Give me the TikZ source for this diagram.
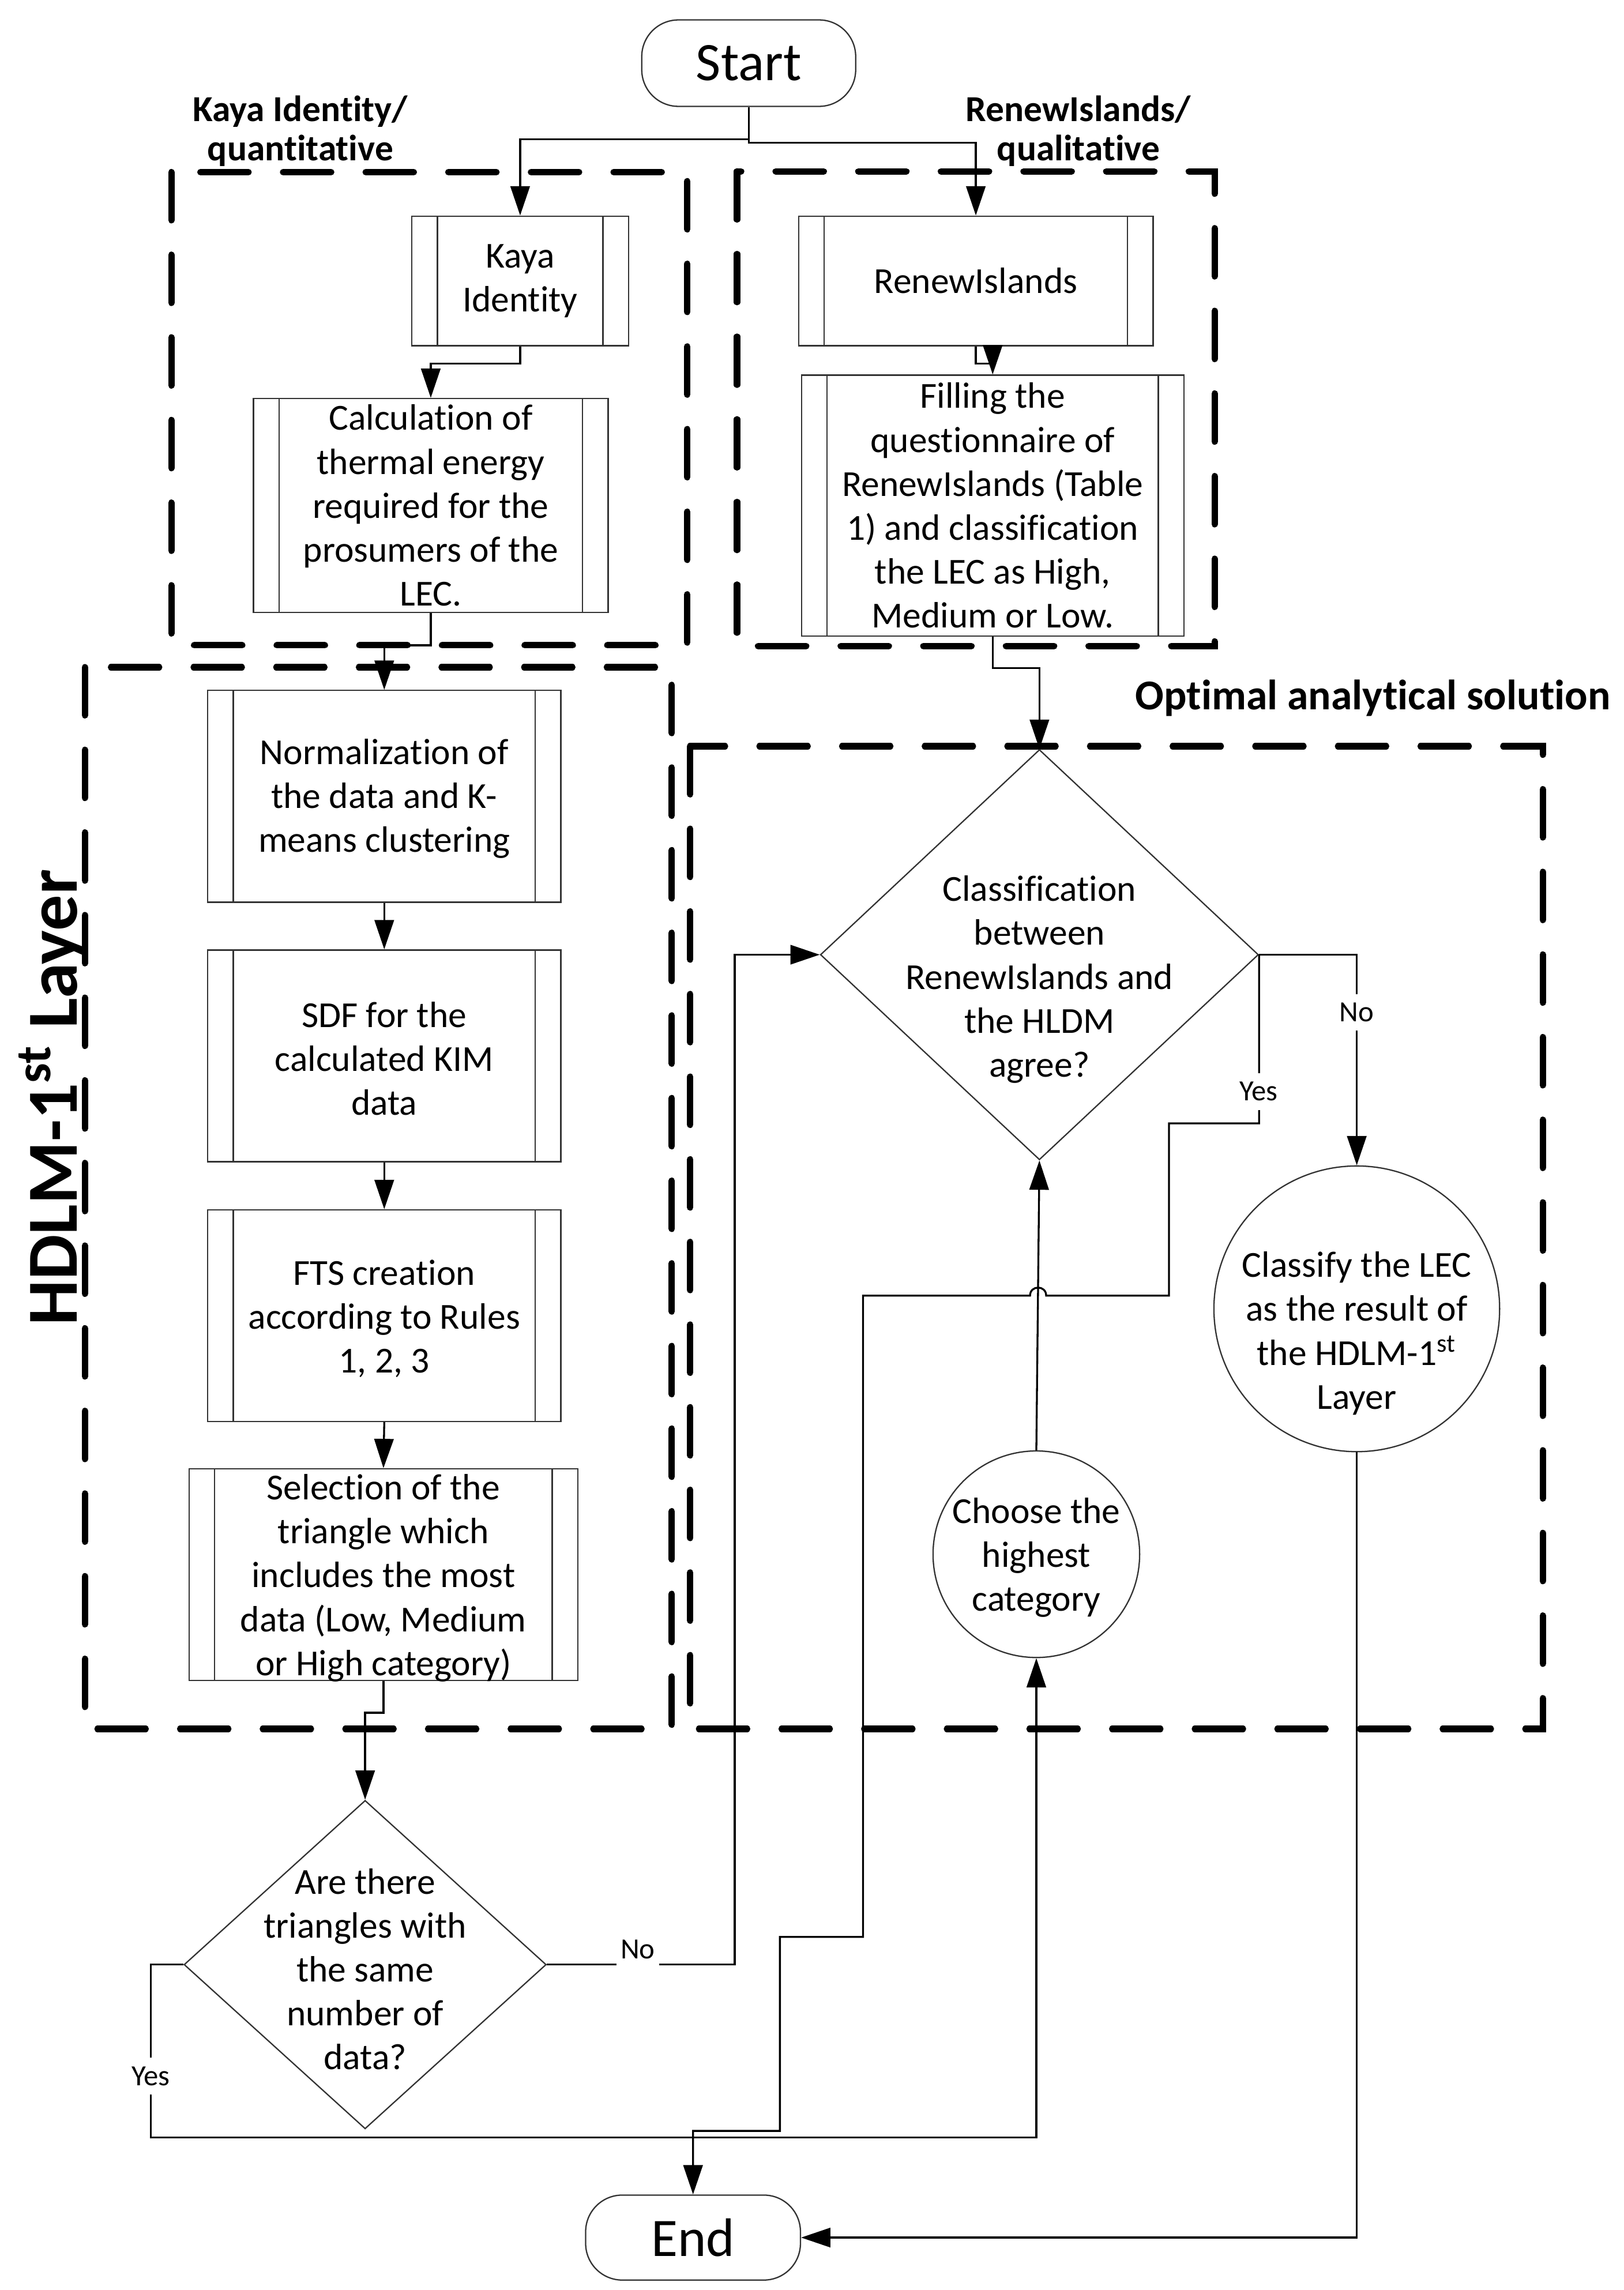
\documentclass[tikz,border=0pt]{standalone}
\usepackage{fontspec}
\setmainfont{Carlito}[Ligatures={NoCommon}]
\usetikzlibrary{arrows.meta,shapes.geometric}
\begin{document}
\begin{tikzpicture}[x=0.5pt,y=-0.5pt,
  txt/.style={align=center,font=\fontsize{12.5}{15}\selectfont,inner sep=0pt},
  lbl/.style={align=center,font=\fontsize{12.5}{13.4}\selectfont\bfseries,inner sep=0pt},
  yn/.style={font=\fontsize{10}{12}\selectfont,fill=white,inner xsep=1.5pt,inner ysep=3pt},
  proc/.style={draw=black!80,line width=0.45pt,fill=white,inner sep=0pt,
     path picture={\draw[black!80,line width=0.45pt]
        ([xshift=8.75pt]path picture bounding box.north west) -- ([xshift=8.75pt]path picture bounding box.south west)
        ([xshift=-8.75pt]path picture bounding box.north east) -- ([xshift=-8.75pt]path picture bounding box.south east);}},
  term/.style={draw=black!80,line width=0.45pt,fill=white,rounded corners=12.5pt,inner sep=0pt,font=\fontsize{18.5}{22}\selectfont},
  dec/.style={diamond,draw=black!80,line width=0.45pt,fill=white,inner sep=0pt},
  circ/.style={circle,draw=black!80,line width=0.45pt,fill=white,inner sep=0pt},
  grp/.style={line width=2.2pt,line cap=round,dash pattern=on 16.4pt off 11.8pt},
  arr/.style={line width=0.65pt,-{Triangle[length=10pt,width=6.6pt]}},
  ln/.style={line width=0.65pt},
]
\fill[white] (0,0) rectangle (1108,1563);
\useasboundingbox (0,0) rectangle (1108,1563);

% group frames
\draw[grp] (117,117.5) rectangle (469,440.4);
\draw[grp] (503,117) rectangle (829,441);
\draw[grp] (58,455.4) rectangle (458.5,1180);
\draw[grp] (471,509.3) rectangle (1053,1180);

% group labels
\node[lbl] (lkaya) at (205,89.5) {Kaya Identity/\\quantitative};
\node[lbl] (lrenew) at (736,89.5) {RenewIslands/\\qualitative};
\node[anchor=base,inner sep=0pt,font=\fontsize{14.5}{17}\selectfont\bfseries] (lopt) at (937,484.5) {Optimal analytical solution};
\node[rotate=90,anchor=base,inner sep=0pt,font=\fontsize{24.5}{29}\selectfont\bfseries] (lhdlm) at (52.5,749) {HDLM-1\textsuperscript{st} Layer};

% nodes
\node[term,minimum width=73pt,minimum height=29.5pt] (start) at (511,43.1) {Start};
\node[proc,minimum width=74pt,minimum height=44.25pt] (kaya) at (355,191.75) {};
\node[txt] (kayat) at (kaya) {Kaya\\Identity};
\node[proc,minimum width=121pt,minimum height=73pt] (calc) at (294,345) {};
\node[txt] (calct) at (calc) {Calculation of\\thermal energy\\required for the\\prosumers of the\\LEC.};
\node[proc,minimum width=121pt,minimum height=44.25pt] (renew) at (666,191.75) {};
\node[txt] (renewt) at (renew) {RenewIslands};
\node[proc,minimum width=130.5pt,minimum height=89pt] (fill) at (677.5,345) {};
\node[txt] (fillt) at (fill) {Filling the\\questionnaire of\\RenewIslands (Table\\1) and classification\\the LEC as High,\\Medium or Low.};
\node[proc,minimum width=120.5pt,minimum height=72.25pt] (norm) at (262.25,543.5) {};
\node[txt] (normt) at (262.25,545) {Normalization of\\the data and K-\\means clustering};
\node[proc,minimum width=120.5pt,minimum height=72.25pt] (sdf) at (262.25,720.65) {};
\node[txt] (sdft) at (262.25,722.5) {SDF for the\\calculated KIM\\data};
\node[proc,minimum width=120.5pt,minimum height=72.25pt] (fts) at (262.25,898) {};
\node[txt] (ftst) at (262.25,900) {FTS creation\\according to Rules\\1, 2, 3};
\node[proc,minimum width=132.7pt,minimum height=72.25pt] (sel) at (261.7,1074.75) {};
\node[txt] (selt) at (261.7,1077) {Selection of the\\triangle which\\includes the most\\data (Low, Medium\\or High category)};

\node[dec,minimum width=149.5pt,minimum height=140pt] (d1) at (709.4,651.6) {};
\node[txt] (d1t) at (709.4,668.5) {Classification\\between\\RenewIslands and\\the HLDM\\agree?};
\node[dec,minimum width=123.6pt,minimum height=112.1pt] (d2) at (249.2,1340.9) {};
\node[txt] (d2t) at (249.2,1344) {Are there\\triangles with\\the same\\number of\\data?};
\node[circ,minimum size=97.5pt] (cls) at (926,893.3) {};
\node[txt] (clst) at (926,910) {Classify the LEC\\as the result of\\the HDLM-1\textsuperscript{st}\\Layer};
\node[circ,minimum size=70.5pt] (cho) at (707.3,1060.8) {};
\node[txt] (chot) at (707.3,1063) {Choose the\\highest\\category};
\node[term,minimum width=73.3pt,minimum height=29pt] (end) at (473,1527.2) {End};

% connectors
\draw[arr] (start.south) -- ++(0,22) -| (kaya.north);
\draw[arr] (start.south) -- ++(0,24.5) -| (renew.north);
\draw[arr] (kaya.south) -- ++(0,11.6) -| (calc.north);
\draw[arr] (renew.south) -- ++(0,11.6) -| (fill.north);
\draw[arr] (calc.south) -- ++(0,22) -| (norm.north);
\draw[arr] (fill.south) -- ++(0,21.5) -| (d1.north);
\draw[arr] (norm.south) -- (sdf.north);
\draw[arr] (sdf.south) -- (fts.north);
\draw[arr] (fts.south) -- (sel.north);
\draw[arr] (sel.south) -- ++(0,21.5) -| (d2.north);
\draw[arr] (d2.east) -- (501.5,1340.9) |- (d1.west);
\draw[arr] (d2.west) -- (102.9,1340.9) -- (102.9,1459) -| (cho.south);
\draw[arr] (d1.east) -| (cls.north);
\draw[arr] (cho.north) -- (d1.south);
\draw[arr] (d1.east) |- (797.8,766.7) -- (797.8,884.3) -- (714,884.3)
   .. controls (714,877) and (703,877) .. (703,884.3) -- (589,884.3) -- (589,1322)
   -- (532.3,1322) -- (532.3,1454.4) -| (end.north);
\draw[arr] (cls.south) |- (end.east);

% branch labels
\node[yn] (no1) at (926,691) {No};
\node[yn] (yes1) at (859,745) {Yes};
\node[yn] (no2) at (435.3,1330.5) {No};
\node[yn] (yes2) at (102.9,1417) {Yes};
\end{tikzpicture}
\end{document}
